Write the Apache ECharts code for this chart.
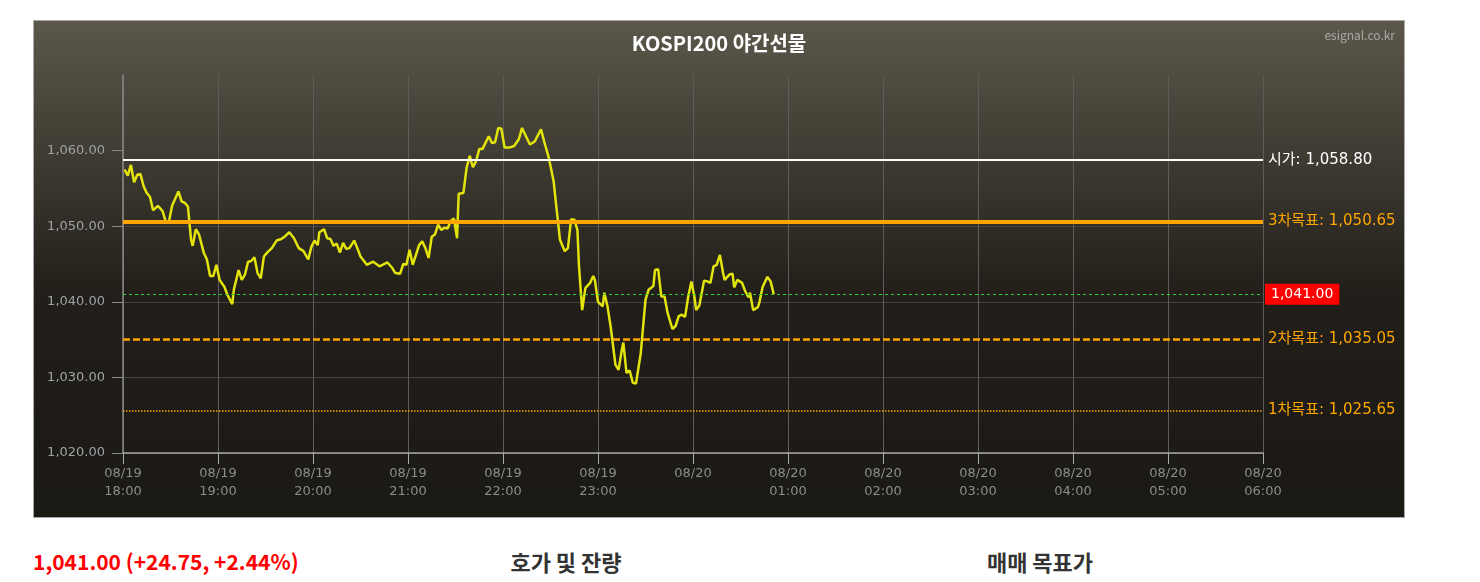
<!DOCTYPE html>
<html>
<head>
<meta charset="utf-8">
<script src="https://cdn.jsdelivr.net/npm/echarts@6/dist/echarts.min.js"></script>
<style>
  html, body { margin: 0; padding: 0; background: #fff; width: 1480px; height: 582px; overflow: hidden; }
  #box { position: absolute; left: 33px; top: 20px; width: 1370px; height: 496px; border: 1px solid #a8a8a8; }
  #chart { width: 1370px; height: 496px; }
  .sub { position: absolute; top: 546px; font-family: 'Noto Sans CJK KR', 'Noto Sans', sans-serif; font-weight: bold; line-height: 30px; white-space: nowrap; }
  #price { left: 33px; color: #f00; font-size: 21px; }
  #hoga { left: 566px; transform: translateX(-50%); color: #333; font-size: 22px; }
  #target { left: 1040px; transform: translateX(-50%); color: #333; font-size: 22px; }
</style>
</head>
<body>
<div id="box"><div id="chart"></div></div>
<div class="sub" id="price">1,041.00 (+24.75, +2.44%)</div>
<div class="sub" id="hoga">호가 및 잔량</div>
<div class="sub" id="target">매매 목표가</div>
<script>
// 야간선물 체결 (시각, 지수)
const times = [
  '18:01','18:03','18:05','18:07','18:09','18:11','18:13','18:15','18:17','18:19',
  '18:22','18:25','18:27','18:29','18:31','18:35','18:37','18:39','18:41','18:43',
  '18:44','18:46','18:48','18:51','18:53','18:55','18:57','18:59','19:01','19:04',
  '19:06','19:09','19:10','19:13','19:15','19:17','19:19','19:21','19:23','19:25',
  '19:27','19:29','19:31','19:34','19:37','19:40','19:42','19:45','19:48','19:51',
  '19:54','19:57','19:59','20:01','20:03','20:04','20:07','20:09','20:11','20:13',
  '20:15','20:17','20:19','20:21','20:23','20:26','20:28','20:30','20:34','20:38',
  '20:42','20:47','20:50','20:52','20:55','20:57','20:59','21:01','21:03','21:07',
  '21:09','21:11','21:13','21:15','21:17','21:19','21:21','21:23','21:25','21:27',
  '21:29','21:31','21:32','21:35','21:37','21:39','21:41','21:43','21:45','21:47',
  '21:51','21:53','21:55','21:57','21:59','22:01','22:04','22:07','22:10','22:12',
  '22:13','22:17','22:20','22:24','22:26','22:29','22:32','22:34','22:36','22:39',
  '22:41','22:43','22:45','22:47','22:48','22:50','22:52','22:55','22:57','22:58',
  '23:00','23:03','23:04','23:06','23:08','23:11','23:13','23:15','23:16','23:18',
  '23:20','23:22','23:24','23:27','23:30','23:32','23:35','23:36','23:38','23:40',
  '23:42','23:44','23:47','23:49','23:51','23:53','23:55','23:57','23:59','00:01',
  '00:02','00:04','00:07','00:09','00:11','00:13','00:15','00:17','00:19','00:20',
  '00:23','00:25','00:26','00:28','00:31','00:33','00:35','00:36','00:38','00:41',
  '00:42','00:44','00:47','00:49','00:51'
];
const prices = [
  1057.5,1056.7,1058.1,1055.8,1056.8,1056.9,1055.3,1054.4,1053.9,1052.1,
  1052.7,1052.0,1050.6,1050.6,1052.7,1054.6,1053.3,1053.1,1052.6,1048.2,
  1047.4,1049.6,1048.9,1046.5,1045.6,1043.4,1043.4,1044.9,1042.9,1042.0,
  1040.9,1039.7,1041.6,1044.2,1042.9,1043.6,1045.3,1045.4,1045.9,1043.8,
  1043.1,1046.0,1046.5,1047.1,1048.1,1048.3,1048.6,1049.2,1048.4,1047.1,
  1046.7,1045.6,1047.3,1048.1,1047.5,1049.2,1049.6,1048.4,1048.3,1047.4,
  1047.7,1046.5,1047.8,1047.0,1047.1,1048.1,1047.1,1046.0,1044.9,1045.3,
  1044.7,1045.2,1044.5,1043.8,1043.7,1045.0,1044.9,1046.9,1044.9,1047.5,
  1048.0,1047.1,1045.8,1048.6,1048.9,1050.2,1049.5,1049.8,1049.7,1050.7,
  1051.0,1048.4,1054.3,1054.4,1057.7,1059.3,1057.8,1058.6,1060.2,1060.2,
  1061.9,1061.0,1061.1,1063.0,1062.9,1060.4,1060.4,1060.6,1061.5,1063.0,
  1062.9,1060.8,1061.2,1062.8,1061.2,1059.0,1055.9,1052.0,1048.2,1046.7,
  1047.1,1050.9,1050.9,1049.5,1044.7,1038.9,1041.8,1042.5,1043.4,1042.9,
  1040.0,1039.4,1041.2,1039.4,1036.7,1031.7,1031.0,1033.6,1034.6,1030.6,
  1030.9,1029.3,1029.2,1033.2,1040.3,1041.6,1042.1,1044.2,1044.3,1040.7,
  1040.7,1038.5,1036.4,1036.8,1038.1,1038.3,1038.0,1040.7,1042.7,1040.5,
  1038.9,1039.5,1042.8,1042.7,1042.5,1044.7,1044.9,1046.2,1043.8,1042.9,
  1043.6,1043.7,1041.9,1042.9,1042.5,1041.4,1040.6,1041.2,1038.9,1039.3,
  1040.0,1042.0,1043.3,1042.7,1041.0
];
const xTickLabels = [
  '08/19\n18:00','08/19\n19:00','08/19\n20:00','08/19\n21:00','08/19\n22:00','08/19\n23:00',
  '08/20','08/20\n01:00','08/20\n02:00','08/20\n03:00','08/20\n04:00','08/20\n05:00','08/20\n06:00'
];
const targetNames = ['시가', '3차목표', '2차목표', '1차목표'];
const targetValues = [1058.80, 1050.65, 1035.05, 1025.65];
const lastPrice = 1041.00;

const fmt = v => Number(v).toLocaleString('en-US', { minimumFractionDigits: 2, maximumFractionDigits: 2 });
// 18:00 기준 경과 분
const toMin = t => {
  const [h, m] = t.split(':').map(Number);
  return (h < 18 ? h + 24 : h) * 60 + m - 18 * 60;
};
const lineData = times.map((t, i) => [toMin(t), prices[i]]);

const FONT = "'Noto Sans CJK KR', 'Noto Sans', sans-serif";
const NUMFONT = "'DejaVu Sans', 'Noto Sans CJK KR', sans-serif";
const ORANGE = '#ffa500';

const targetStyles = [
  { color: '#ffffff', width: 2, type: 'solid' },
  { color: ORANGE, width: 4, type: 'solid' },
  { color: ORANGE, width: 2.5, type: [7, 3] },
  { color: ORANGE, width: 1.5, type: [1.5, 1.5] }
];

const markData = targetValues.map((v, i) => ({
  yAxis: v,
  lineStyle: targetStyles[i],
  label: {
    formatter: targetNames[i] + ': ' + fmt(v),
    color: i === 0 ? '#ffffff' : ORANGE
  }
}));
markData.push({
  yAxis: lastPrice,
  lineStyle: { color: '#33cc33', width: 1, type: [3, 3] },
  label: {
    formatter: fmt(lastPrice),
    color: '#fff',
    fontSize: 14,
    backgroundColor: '#ff0000',
    padding: [4, 6, 3, 6],
    distance: 2
  }
});

const chart = echarts.init(document.getElementById('chart'));
chart.setOption({
  animation: false,
  backgroundColor: {
    type: 'linear', x: 0, y: 0, x2: 0, y2: 1,
    colorStops: [
      { offset: 0, color: '#5b574a' },
      { offset: 0.55, color: '#221f1a' },
      { offset: 1, color: '#1b1914' }
    ]
  },
  title: {
    text: 'KOSPI200 야간선물',
    left: 'center',
    top: 7,
    textStyle: { color: '#fff', fontSize: 20, fontWeight: 'bold', fontFamily: FONT }
  },
  graphic: [{
    type: 'text',
    right: 9,
    top: 8,
    style: { text: 'esignal.co.kr', fill: '#a9a9a9', fontSize: 12, fontFamily: FONT }
  }],
  grid: { left: 89, top: 54, width: 1140, height: 378 },
  xAxis: {
    type: 'value',
    min: 0,
    max: 720,
    interval: 60,
    axisLine: { lineStyle: { color: '#a8a8a8', width: 1.5 } },
    axisTick: { length: 11, lineStyle: { color: '#a8a8a8' } },
    axisLabel: {
      color: '#8c8c8c',
      fontSize: 13,
      fontFamily: NUMFONT,
      lineHeight: 18,
      margin: 12,
      formatter: v => xTickLabels[Math.round(v / 60)]
    },
    splitLine: { show: true, lineStyle: { color: '#5e5c58', width: 1 } }
  },
  yAxis: {
    type: 'value',
    min: 1020,
    max: 1070,
    interval: 10,
    axisLine: { show: true, lineStyle: { color: '#8a8a8a', width: 1.5 } },
    axisTick: { show: true, length: 11, lineStyle: { color: '#8a8a8a' } },
    axisLabel: {
      color: '#9ea2a6',
      fontSize: 13,
      fontFamily: NUMFONT,
      margin: 18,
      showMaxLabel: false,
      formatter: v => fmt(v)
    },
    splitLine: { show: true, showMaxLine: false, lineStyle: { color: '#45433e', width: 1 } }
  },
  series: [
    {
      type: 'line',
      z: 1,
      data: [],
      markLine: {
        silent: true,
        symbol: 'none',
        label: { position: 'end', distance: 5, fontSize: 15, fontFamily: NUMFONT },
        data: markData
      }
    },
    {
      type: 'line',
      z: 3,
      data: lineData,
      showSymbol: false,
      lineStyle: { color: '#e2e40c', width: 2.5 }
    }
  ]
});
</script>
</body>
</html>
